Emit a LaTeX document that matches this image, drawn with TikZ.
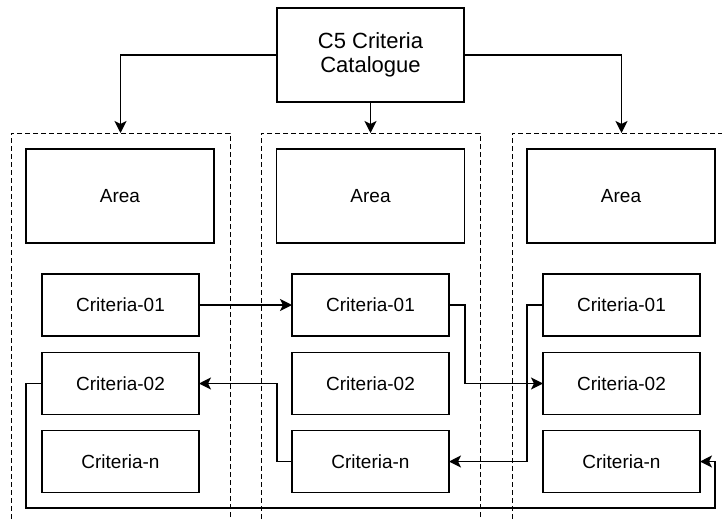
\documentclass[tikz,border=0pt]{standalone}
\usepackage{fontspec}
\setmainfont{Liberation Sans}
\usetikzlibrary{arrows.meta}

\tikzset{
  box/.style={draw, line width=1.4pt, inner sep=0pt, outer sep=0pt, align=center,
              font=\fontsize{19}{23}\selectfont},
  titlebox/.style={box, minimum width=187pt, minimum height=94pt,
              font=\fontsize{22}{24}\selectfont},
  areabox/.style={box, minimum width=188pt, minimum height=94pt},
  critbox/.style={box, minimum width=157pt, minimum height=62pt},
  group/.style={draw, dash pattern=on 5pt off 3pt, line width=1pt,
              inner sep=0pt, outer sep=0pt, minimum width=219pt, minimum height=397pt},
  link/.style={line width=1.4pt, -{Stealth[length=12pt,width=12pt,inset=3pt]}},
}

\begin{document}
\begin{tikzpicture}[x=1pt, y=-1pt]
  \clip (0,0) rectangle (722,519);

  % dashed area containers
  \node[group] (g1) at (120.5,331.5) {};
  \node[group] (g2) at (370.5,331.5) {};
  \node[group] (g3) at (621.5,331.5) {};

  % catalogue root
  \node[titlebox] (cat) at (370.5,55) {C5 Criteria\\Catalogue};

  % area headers
  \node[areabox] (a1) at (120,196) {Area};
  \node[areabox] (a2) at (370.5,196) {Area};
  \node[areabox] (a3) at (621,196) {Area};

  % criteria per area
  \node[critbox] (l1) at (120.5,305)   {Criteria-01};
  \node[critbox] (l2) at (120.5,383.5) {Criteria-02};
  \node[critbox] (ln) at (120.5,461.5) {Criteria-n};
  \node[critbox] (m1) at (370.5,305)   {Criteria-01};
  \node[critbox] (m2) at (370.5,383.5) {Criteria-02};
  \node[critbox] (mn) at (370.5,461.5) {Criteria-n};
  \node[critbox] (r1) at (621.5,305)   {Criteria-01};
  \node[critbox] (r2) at (621.5,383.5) {Criteria-02};
  \node[critbox] (rn) at (621.5,461.5) {Criteria-n};

  % catalogue to containers
  \draw[link] (cat.west) -| (g1.north);
  \draw[link] (cat.south) -- (g2.north);
  \draw[link] (cat.east) -| (g3.north);

  % links between criteria
  \draw[link] (l1.east) -- (m1.west);
  \draw[link] (m1.east) -- ++(16,0) |- (r2.west);
  \draw[link] (r1.west) -- ++(-16,0) |- (mn.east);
  \draw[link] (mn.west) -- ++(-15,0) |- (l2.east);
  \coordinate (loop) at (715,508);
  \draw[link] (l2.west) -- ++(-16,0) |- (loop) |- (rn.east);
\end{tikzpicture}
\end{document}
